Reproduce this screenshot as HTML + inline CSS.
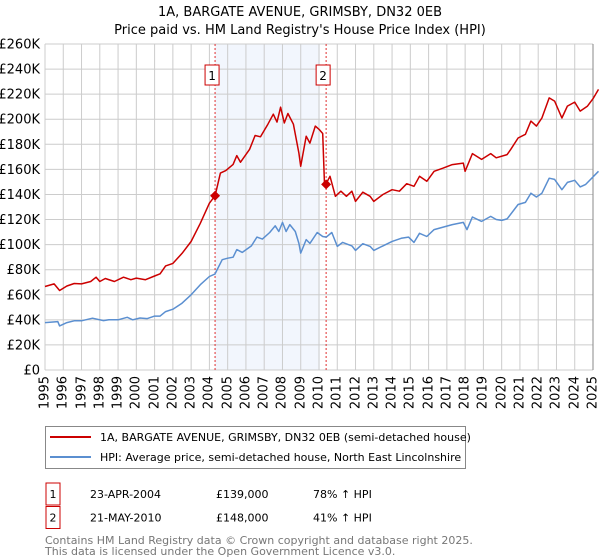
<!DOCTYPE html>
<html><head><meta charset="utf-8"><style>
body{margin:0;background:#fff;font-family:"Liberation Sans","DejaVu Sans",sans-serif;}
#wrap{position:relative;width:600px;height:560px;overflow:hidden;}
svg text{font-family:"DejaVu Sans","Liberation Sans",sans-serif;}
.xl{position:absolute;font-family:"DejaVu Sans","Liberation Sans",sans-serif;font-size:13px;line-height:15px;white-space:nowrap;transform-origin:0 0;transform:rotate(-90deg) translate(-100%,-50%);color:#000;}
</style></head><body><div id="wrap">
<svg id="c" width="600" height="560" style="position:absolute;left:0;top:0"></svg>
</div>
<script>
const redDates=[1995.0,1995.5,1995.8,1996.2,1996.6,1997.0,1997.5,1997.8,1998.0,1998.3,1998.8,1999.3,1999.7,2000.0,2000.5,2001.0,2001.3,2001.6,2002.0,2002.5,2003.0,2003.5,2004.0,2004.31,2004.6,2004.9,2005.3,2005.5,2005.7,2006.2,2006.5,2006.8,2007.2,2007.5,2007.7,2007.9,2008.1,2008.3,2008.6,2008.9,2009.0,2009.3,2009.5,2009.8,2010.0,2010.2,2010.3,2010.39,2010.6,2010.9,2011.2,2011.5,2011.8,2012.0,2012.4,2012.8,2013.0,2013.5,2014.0,2014.4,2014.8,2015.2,2015.5,2015.9,2016.3,2016.8,2017.3,2017.9,2018.0,2018.4,2018.9,2019.4,2019.7,2020.3,2020.5,2020.9,2021.3,2021.6,2021.9,2022.2,2022.6,2022.9,2023.3,2023.6,2024.0,2024.3,2024.7,2025.0,2025.3];
const redValues=[66.6,68.7,63.4,67,69,68.7,70.6,74,70.6,73,70.6,74,72,73.3,72,75,76.7,83,85,93,102.5,117,133,139,157,159,164,171,165.7,176,187,186,196,204,197.7,209.6,197,204.6,196,173,162.5,186.5,181,194.5,192,188.6,148,148.6,154.5,138.5,142.6,138.5,142.6,134.5,141.8,138.5,134.5,140,143.8,142.6,148.6,146.5,154.5,150.5,158.5,161,163.8,165,158.5,172.6,168,172.6,169.2,171.8,176,185,188,198.5,194.5,201,217,214.5,201,210.5,213.7,206.5,210.5,216.4,223.8];
const hpiDates=[1995.0,1995.7,1995.8,1996.2,1996.6,1997.0,1997.6,1998.2,1998.5,1999.0,1999.5,1999.8,2000.2,2000.6,2001.0,2001.3,2001.6,2002.0,2002.5,2003.0,2003.5,2004.0,2004.3,2004.7,2005.0,2005.3,2005.5,2005.8,2006.3,2006.6,2006.9,2007.3,2007.6,2007.8,2008.0,2008.2,2008.4,2008.7,2008.9,2009.0,2009.3,2009.5,2009.9,2010.2,2010.4,2010.7,2011.0,2011.3,2011.8,2012.0,2012.4,2012.8,2013.0,2013.5,2014.0,2014.5,2014.9,2015.2,2015.5,2015.9,2016.3,2016.8,2017.3,2017.9,2018.1,2018.4,2018.9,2019.4,2019.7,2020.0,2020.3,2020.9,2021.3,2021.6,2021.9,2022.2,2022.6,2022.9,2023.3,2023.6,2024.0,2024.3,2024.6,2025.3];
const hpiValues=[37.8,38.6,35.2,37.8,39.2,39.2,41.3,39.4,40,40,42,40,41.5,41,43,43,46.6,48.5,53.3,60,68,74.6,76.5,88,89.2,90,96,93.8,99,106,104.4,109.7,115,110.5,117.7,110.5,116,110.5,101,93.2,104,101,109.7,106.5,106,109.7,98.6,101.8,99,95.4,100.7,98.6,95.4,99,102.6,105,106,101.8,109,106.5,112,114,116,117.7,112,122,118.5,122.5,120,119.3,120.5,132,133.7,141,138,141,153,152,143.8,149.6,151.3,146,148,158.5];
const yTicks=[0,20,40,60,80,100,120,140,160,180,200,220,240,260];
const yTickLabels=["£0","£20K","£40K","£60K","£80K","£100K","£120K","£140K","£160K","£180K","£200K","£220K","£240K","£260K"];
const xYears=[1995,1996,1997,1998,1999,2000,2001,2002,2003,2004,2005,2006,2007,2008,2009,2010,2011,2012,2013,2014,2015,2016,2017,2018,2019,2020,2021,2022,2023,2024,2025];
const saleDates=[2004.31,2010.39];
const saleValues=[139,148];
const saleLabels=["1","2"];

const NS="http://www.w3.org/2000/svg";
const svg=document.getElementById('c');
const wrap=document.getElementById('wrap');
const L=45,R=593,T=44,B=370;
const xs=d=>L+(d-1995)/30*(R-L);
const ys=v=>B-v/260*(B-T);
function mk(tag,attrs,parent){const e=document.createElementNS(NS,tag);for(const k in attrs)e.setAttribute(k,attrs[k]);(parent||svg).appendChild(e);return e;}
function tx(x,y,s,attrs,parent){const e=mk('text',Object.assign({x:x,y:y},attrs||{}),parent);e.textContent=s;return e;}

let t=tx(300,16,"1A, BARGATE AVENUE, GRIMSBY, DN32 0EB",{'text-anchor':'middle','font-size':'13'});


t=tx(300,34,"Price paid vs. HM Land Registry's House Price Index (HPI)",{'text-anchor':'middle','font-size':'13'});



let sh=mk('rect',{x:xs(saleDates[0]),y:T,width:xs(2010.05)-xs(saleDates[0]),height:B-T,fill:'#eef3fc',opacity:'0.75'});



const grid=mk('g',{stroke:'#cccccc','stroke-width':'1'});


yTicks.forEach((v,i)=>{
  mk('line',{x1:L,x2:R,y1:ys(v),y2:ys(v)},grid);
  const lb=tx(40,ys(v)+4.5,yTickLabels[i],{'text-anchor':'end','font-size':'13'});
  
  
});
xYears.forEach(y=>{
  mk('line',{x1:xs(y),x2:xs(y),y1:T,y2:B},grid);
  const lb=document.createElement('div');
  lb.className='xl';
  lb.style.left=xs(y)+'px';
  lb.style.top='376px';
  lb.textContent=String(y);
  
  
  wrap.appendChild(lb);
});
mk('line',{x1:R,x2:R,y1:T,y2:B,stroke:'#888','stroke-width':'1'});

saleDates.forEach((d,i)=>{
  const ln=mk('line',{x1:xs(d),x2:xs(d),y1:T,y2:B,stroke:'#e03030','stroke-width':'1','stroke-dasharray':'2,2'});
  
  
  const g=mk('g',{});
  
  
  mk('rect',{x:xs(d)-10,y:65,width:14,height:20,fill:'#fff',stroke:'#cc0000','stroke-width':'1'},g);
  tx(xs(d)-3,80,saleLabels[i],{'text-anchor':'middle','font-size':'12'},g);
});

function path(dates,vals,color,name){
  let d=dates.map((x,i)=>(i?'L':'M')+xs(x).toFixed(1)+','+ys(vals[i]).toFixed(1)).join('');
  const p=mk('path',{d:d,fill:'none',stroke:color,'stroke-width':'1.5','stroke-linejoin':'round'});
  
  
}
path(hpiDates,hpiValues,'#5b8fd0','hpi-line');
path(redDates,redValues,'#cc0000','price-paid-line');
saleDates.forEach((d,i)=>{
  const x=xs(d),y=ys(saleValues[i]);
  const m=mk('path',{d:`M${x},${y-5}L${x+5},${y}L${x},${y+5}L${x-5},${y}Z`,fill:'#cc0000'});
  
  
});

const lg=mk('g',{});


mk('rect',{x:45.5,y:426.5,width:420,height:42,fill:'#fff',stroke:'#888'},lg);
mk('line',{x1:50,x2:91,y1:437,y2:437,stroke:'#cc0000','stroke-width':'2'},lg);
mk('line',{x1:50,x2:91,y1:457,y2:457,stroke:'#5b8fd0','stroke-width':'2'},lg);
let e1=tx(100,441,"1A, BARGATE AVENUE, GRIMSBY, DN32 0EB (semi-detached house)",{'font-size':'11'},lg);


let e2=tx(100,461,"HPI: Average price, semi-detached house, North East Lincolnshire",{'font-size':'11'},lg);



const rows=[["1","23-APR-2004","£139,000","78% ↑ HPI"],["2","21-MAY-2010","£148,000","41% ↑ HPI"]];
rows.forEach((r,i)=>{
  const cy=494+i*23.5;
  const g=mk('g',{});
  
  
  mk('rect',{x:46,y:cy-11,width:14,height:22,fill:'#fff',stroke:'#cc0000'},g);
  tx(53,cy+4,r[0],{'text-anchor':'middle','font-size':'11'},g);
  tx(90,cy+4,r[1],{'font-size':'11'},g);
  tx(216,cy+4,r[2],{'font-size':'11'},g);
  tx(313,cy+4,r[3],{'font-size':'11'},g);
});
let f=tx(45,544,"Contains HM Land Registry data © Crown copyright and database right 2025.",{'font-size':'11',fill:'#777'});


f=tx(45,555,"This data is licensed under the Open Government Licence v3.0.",{'font-size':'11',fill:'#777'});


</script></body></html>
